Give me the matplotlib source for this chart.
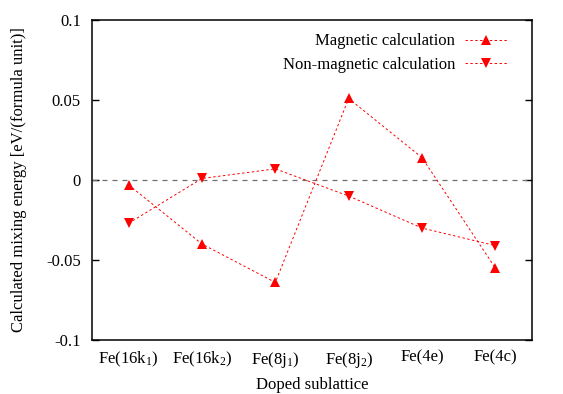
import matplotlib
matplotlib.use("Agg")
import matplotlib.pyplot as plot

sites = ["Fe(16k$_1$)", "Fe(16k$_2$)", "Fe(8j$_1$)", "Fe(8j$_2$)", "Fe(4e)", "Fe(4c)"]
magnetic = [-0.003, -0.040, -0.064, 0.051, 0.014, -0.055]
non_magnetic = [-0.027, 0.001, 0.007, -0.010, -0.030, -0.041]
y_ticks = [-0.1, -0.05, 0, 0.05, 0.1]
y_tick_labels = ["-0.1", "-0.05", "0", "0.05", "0.1"]

plot.rcParams.update({
    "font.family": "Liberation Serif",
    "font.size": 12,
    "mathtext.fontset": "custom",
    "mathtext.rm": "Liberation Serif",
    "mathtext.it": "Liberation Serif:italic",
    "axes.unicode_minus": False,
})

figure = plot.figure(figsize=(5.63, 3.94), dpi=100)
axes = figure.add_subplot(111)
figure.subplots_adjust(left=0.1634, right=0.945, top=0.949, bottom=0.137)

xx = range(1, len(sites) + 1)
axes.axhline(0, color="#707070", lw=0.9, dashes=(4, 4))
axes.plot(xx, magnetic, color="red", lw=0.7, dashes=(2.5, 2.5), marker="^",
          markersize=6.5, markeredgewidth=0, label="Magnetic calculation")
axes.plot(xx, non_magnetic, color="red", lw=0.7, dashes=(2.5, 2.5), marker="v",
          markersize=6.5, markeredgewidth=0, label="Non-magnetic calculation")

axes.set_xlim(0.5, len(sites) + 0.5)
axes.set_ylim(-0.1, 0.1)
axes.set_xticks(list(xx))
axes.set_xticklabels(sites)
axes.set_yticks(y_ticks)
axes.set_yticklabels(y_tick_labels)
axes.tick_params(axis="x", length=0, pad=7)
axes.tick_params(axis="y", direction="in", length=5, width=1, right=True, pad=8)
for spine in axes.spines.values():
    spine.set_linewidth(1.1)

axes.set_xlabel("Doped sublattice", labelpad=5)
axes.set_ylabel("Calculated mixing energy [eV/(formula unit)]", labelpad=14)

axes.legend(loc="upper right", frameon=False, markerfirst=False, handlelength=2.5,
            handletextpad=0.6, labelspacing=0.45, borderaxespad=0.5,
            bbox_to_anchor=(0.977, 1.005))

figure.savefig("out.png", dpi=100)
